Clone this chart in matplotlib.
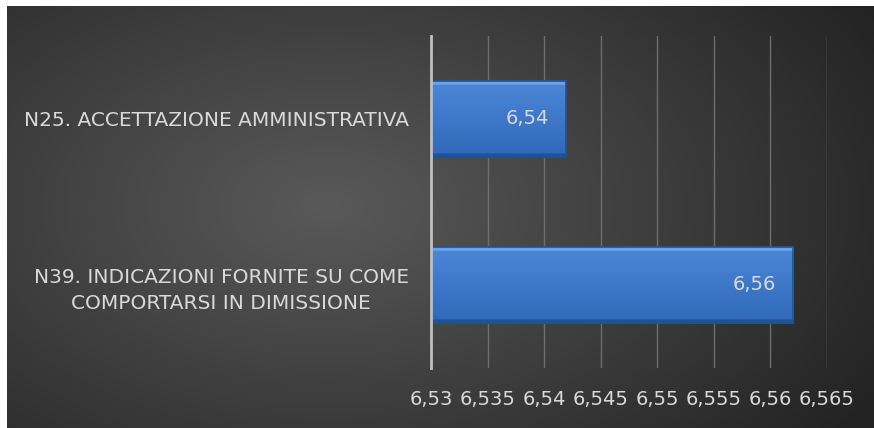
import numpy as np
import matplotlib.pyplot as plt
from matplotlib.patches import Rectangle

# dati
categorie = ["N39. INDICAZIONI FORNITE SU COME\nCOMPORTARSI IN DIMISSIONE",
             "N25. ACCETTAZIONE AMMINISTRATIVA"]
valori = [6.5620, 6.5419]
etichette = ["6,56", "6,54"]
tick_val = [6.53, 6.535, 6.54, 6.545, 6.55, 6.555, 6.56, 6.565]
tick_lab = ["6,53", "6,535", "6,54", "6,545", "6,55", "6,555", "6,56", "6,565"]

font = ["DejaVu Sans"]
testo = "#d9d9d9"

fig = plt.figure(figsize=(8.74, 4.28), dpi=100)
fig.patch.set_facecolor("white")

# sfondo con gradiente radiale
bg = fig.add_axes([7 / 874, 0, 867 / 874, 422 / 428])
yy, xx = np.mgrid[0:422, 0:867]
d = np.sqrt(((xx - 320) / 600.0) ** 2 + ((yy - 200) / 360.0) ** 2)
lum = np.clip(0.35 - 0.20 * d, 0.14, 0.35)
img = np.dstack([lum, lum, lum])
bg.imshow(img, aspect="auto", interpolation="bilinear")
bg.axis("off")

ax = fig.add_axes([431 / 874, 60 / 428, 396 / 874, 332 / 428])
ax.patch.set_alpha(0)
ax.set_xlim(6.53, 6.565)
ax.set_ylim(-0.5, 1.5)

pos = np.arange(len(valori))
barre = ax.barh(pos, np.array(valori) - 6.53, left=6.53, height=0.46,
                color="#3a78c9", edgecolor="#24528f", linewidth=1.2, zorder=3)

# gradiente verticale nelle barre (effetto smussato)
grad = np.linspace(0, 1, 64).reshape(-1, 1)
top = np.array([0.30, 0.53, 0.85])
bot = np.array([0.19, 0.41, 0.72])
gimg = bot + (top - bot) * grad[..., None]
gimg[-4:] = [0.42, 0.64, 0.92]
gimg[:3] = [0.14, 0.32, 0.58]
for b in barre:
    x0, y0, w, h = b.get_x(), b.get_y(), b.get_width(), b.get_height()
    im = ax.imshow(gimg, extent=[x0, x0 + w, y0, y0 + h], origin="lower",
                   aspect="auto", zorder=3.5, interpolation="bilinear")
    im.set_clip_path(b)
    ax.add_patch(Rectangle((x0, y0), w, h, fill=False, edgecolor="#24528f",
                           linewidth=1.2, zorder=4))

for p, v, t in zip(pos, valori, etichette):
    ax.annotate(t, xy=(v, p), xytext=(-12, 0), textcoords="offset points",
                ha="right", va="center", color=testo, fontsize=14,
                family=font, zorder=5)

ax.set_xticks(tick_val)
ax.set_xticklabels(tick_lab, color=testo, fontsize=14, family=font)
ax.set_yticks(pos)
ax.set_yticklabels(categorie, color=testo, fontsize=14.5, family=font,
                   ha="right", multialignment="center", linespacing=1.45)
ax.tick_params(axis="y", length=0, pad=16)
ax.tick_params(axis="x", length=0, pad=16)

ax.grid(axis="x", color="#6e6e6e", linewidth=1, zorder=0)
for s in ["top", "right", "bottom"]:
    ax.spines[s].set_visible(False)
ax.spines["left"].set_color("#bfbfbf")
ax.spines["left"].set_linewidth(2)
ax.spines["left"].set_zorder(6)

fig.savefig("out.png", dpi=100)
